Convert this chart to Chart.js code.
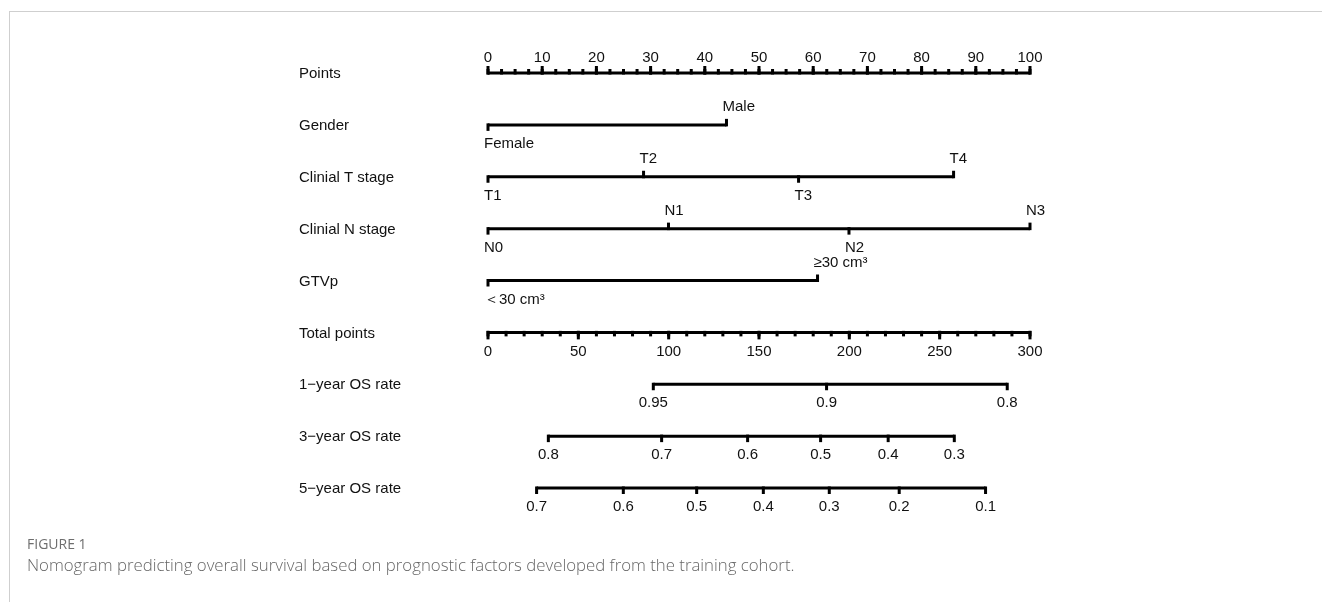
<!DOCTYPE html>
<html>
<head>
<meta charset="utf-8">
<script src="https://cdn.jsdelivr.net/npm/chart.js"></script>
<style>
  body { margin: 0; background: #fff; }
  #wrap { position: relative; width: 1322px; height: 602px; overflow: hidden; }
  #frame { position: absolute; left: 9px; top: 11px; right: -2px; bottom: -2px;
           border-left: 1px solid #cfcfcf; border-top: 1px solid #cfcfcf; }
  #chartBox { position: absolute; left: 0; top: 0; width: 1322px; height: 602px; }
  .fig { position: absolute; left: 27px; font-family: "Open Sans", sans-serif; color: #6e6e6e; }
  #figNum { top: 534px; font-size: 14px; }
  #figText { top: 553px; font-size: 16.8px; font-weight: 300; color: #666; }
</style>
</head>
<body>
<div id="wrap">
  <div id="frame"></div>
  <div id="chartBox"><canvas id="myChart"></canvas></div>
  <div class="fig" id="figNum">FIGURE 1</div>
  <div class="fig" id="figText">Nomogram predicting overall survival based on prognostic factors developed from the training cohort.</div>
</div>
<script>
// row names, top to bottom
const rowNames = ["Points", "Gender", "Clinial T stage", "Clinial N stage", "GTVp",
                  "Total points", "1\u2212year OS rate", "3\u2212year OS rate", "5\u2212year OS rate"];

// points axis
const pointsTicks = [0, 10, 20, 30, 40, 50, 60, 70, 80, 90, 100];
const pointsMinorStep = 2.5;

// predictors (level names and their points)
const genderLevels = ["Female", "Male"];
const genderPoints = [0, 44];
const tStageLevels = ["T1", "T2", "T3", "T4"];
const tStagePoints = [0, 28.7, 57.3, 85.9];
const nStageLevels = ["N0", "N1", "N2", "N3"];
const nStagePoints = [0, 33.3, 66.6, 100];
const gtvLevels = ["\uFF1C30 cm\u00B3", "\u226530 cm\u00B3"];
const gtvPoints = [0, 60.8];

// total points axis
const totalTicks = [0, 50, 100, 150, 200, 250, 300];
const totalMinorStep = 10;

// survival rates and where they fall on total points
const os1Labels = ["0.95", "0.9", "0.8"];
const os1Total = [91.5, 187.4, 287.4];
const os3Labels = ["0.8", "0.7", "0.6", "0.5", "0.4", "0.3"];
const os3Total = [33.4, 96.1, 143.7, 184.1, 221.5, 258.1];
const os5Labels = ["0.7", "0.6", "0.5", "0.4", "0.3", "0.2", "0.1"];
const os5Total = [26.9, 74.9, 115.5, 152.4, 188.9, 227.6, 275.4];

const predictors = [
    { row: 1, levels: genderLevels, values: genderPoints },
    { row: 2, levels: tStageLevels, values: tStagePoints },
    { row: 3, levels: nStageLevels, values: nStagePoints },
    { row: 4, levels: gtvLevels, values: gtvPoints }
];
const survival = [
    { row: 6, labels: os1Labels, values: os1Total },
    { row: 7, labels: os3Labels, values: os3Total },
    { row: 8, labels: os5Labels, values: os5Total }
];

function segment(row, values, axis) {
    return {
        type: "line",
        xAxisID: axis,
        data: [{ x: Math.min(...values), y: row }, { x: Math.max(...values), y: row }],
        borderColor: "#000",
        borderWidth: 3,
        pointRadius: 0,
        clip: false
    };
}

const datasets = [segment(0, pointsTicks, "x")];
predictors.forEach(p => datasets.push(segment(p.row, p.values, "x")));
datasets.push(segment(5, totalTicks, "x2"));
survival.forEach(s => datasets.push(segment(s.row, s.values, "x2")));

const FONT = '15px "Liberation Sans", Arial, sans-serif';

function tick(ctx, px, py, dir, len) {
    // dir -1 = up, 1 = down
    if (dir < 0) ctx.fillRect(px - 1.5, py - len, 3, len + 1.5);
    else ctx.fillRect(px - 1.5, py - 1.5, 3, len + 1.5);
}

const nomogramPlugin = {
    id: "nomogram",
    afterDatasetsDraw(chart) {
        const ctx = chart.ctx;
        const x = chart.scales.x;
        const x2 = chart.scales.x2;
        const y = chart.scales.y;
        ctx.save();
        ctx.font = FONT;

        // row names
        ctx.textAlign = "left";
        ctx.textBaseline = "middle";
        ctx.fillStyle = "#111";
        rowNames.forEach((name, i) => ctx.fillText(name, 299, y.getPixelForValue(i) + 1));
        ctx.textBaseline = "alphabetic";

        // points axis
        let py = y.getPixelForValue(0);
        ctx.fillStyle = "#000";
        for (let v = 0; v <= 100; v += pointsMinorStep) tick(ctx, x.getPixelForValue(v), py, -1, 4);
        ctx.textAlign = "center";
        pointsTicks.forEach(v => {
            const px = x.getPixelForValue(v);
            ctx.fillStyle = "#000";
            tick(ctx, px, py, -1, 7);
            ctx.fillStyle = "#111";
            ctx.fillText(String(v), px, py - 11);
        });

        // predictors, labels alternate below / above
        ctx.textAlign = "left";
        predictors.forEach(p => {
            py = y.getPixelForValue(p.row);
            p.values.forEach((v, i) => {
                const px = x.getPixelForValue(v);
                const up = i % 2 === 1;
                ctx.fillStyle = "#000";
                tick(ctx, px, py, up ? -1 : 1, 6);
                ctx.fillStyle = "#111";
                ctx.fillText(p.levels[i], px - 4, up ? py - 14 : py + 23);
            });
        });

        // total points axis
        py = y.getPixelForValue(5);
        ctx.fillStyle = "#000";
        for (let v = 0; v <= 300; v += totalMinorStep) tick(ctx, x2.getPixelForValue(v), py, 1, 4);
        ctx.textAlign = "center";
        totalTicks.forEach(v => {
            const px = x2.getPixelForValue(v);
            ctx.fillStyle = "#000";
            tick(ctx, px, py, 1, 7);
            ctx.fillStyle = "#111";
            ctx.fillText(String(v), px, py + 24);
        });

        // survival axes
        survival.forEach(s => {
            py = y.getPixelForValue(s.row);
            s.values.forEach((v, i) => {
                const px = x2.getPixelForValue(v);
                ctx.fillStyle = "#000";
                tick(ctx, px, py, 1, 6);
                ctx.fillStyle = "#111";
                ctx.fillText(s.labels[i], px, py + 23);
            });
        });
        ctx.restore();
    }
};

new Chart(document.getElementById("myChart"), {
    type: "line",
    data: { datasets },
    plugins: [nomogramPlugin],
    options: {
        responsive: true,
        maintainAspectRatio: false,
        animation: false,
        events: [],
        layout: { padding: { left: 488, right: 292, top: 73, bottom: 114 } },
        scales: {
            x: { type: "linear", min: 0, max: 100, display: false },
            x2: { type: "linear", min: 0, max: 300, display: false },
            y: { type: "linear", min: 0, max: 8, reverse: true, display: false }
        },
        plugins: { legend: { display: false }, tooltip: { enabled: false } }
    }
});
</script>
</body>
</html>
